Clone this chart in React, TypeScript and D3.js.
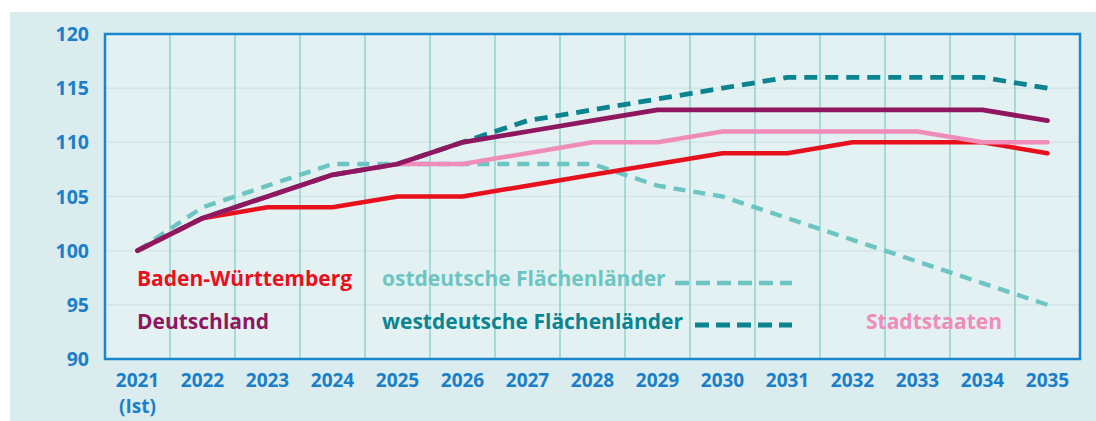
import React from "react";
import * as d3 from "d3";

const years = ["2021", "2022", "2023", "2024", "2025", "2026", "2027", "2028", "2029", "2030", "2031", "2032", "2033", "2034", "2035"];
const yTicks = [90, 95, 100, 105, 110, 115, 120];

const badenWuerttemberg = [100, 103, 104, 104, 105, 105, 106, 107, 108, 109, 109, 110, 110, 110, 109];
const deutschland = [100, 103, 105, 107, 108, 110, 111, 112, 113, 113, 113, 113, 113, 113, 112];
const stadtstaaten = [100, 103, 105, 107, 108, 108, 109, 110, 110, 111, 111, 111, 111, 110, 110];
const ostdeutsche = [100, 104, 106, 108, 108, 108, 108, 108, 106, 105, 103, 101, 99, 97, 95];
const westdeutsche = [100, 103, 105, 107, 108, 110, 112, 113, 114, 115, 116, 116, 116, 116, 115];

const W = 1096;
const H = 421;
const M = { left: 105, right: 1080, top: 34, bottom: 359 };
const FONT = "'Open Sans', sans-serif";

export default function App() {
  const x = d3.scaleBand<string>().domain(years).range([M.left, M.right]).padding(0);
  const y = d3.scaleLinear().domain([90, 120]).range([M.bottom, M.top]);
  const cx = (d: string) => (x(d) as number) + x.bandwidth() / 2;
  const line = (vals: number[]) =>
    d3.line<number>().x((_, i) => cx(years[i])).y((v) => y(v))(vals) as string;

  const series = [
    { vals: ostdeutsche, color: "#6cc5c1", dash: "12 8", w: 4.4 },
    { vals: westdeutsche, color: "#0b8490", dash: "13 8", w: 4.8 },
    { vals: badenWuerttemberg, color: "#e8101c", dash: null, w: 4.5 },
    { vals: stadtstaaten, color: "#ef8cba", dash: null, w: 4.5 },
    { vals: deutschland, color: "#8e1760", dash: null, w: 4.8 },
  ];

  const gridX = years.slice(1).map((d) => x(d) as number);

  return (
    <svg width={W} height={H} style={{ position: "absolute", left: 0, top: 0, display: "block" }}>
      <rect x={0} y={0} width={W} height={H} fill="#ffffff" />
      <rect x={10} y={12} width={W - 10} height={H - 12} fill="#daeced" />
      <rect x={M.left} y={M.top} width={M.right - M.left} height={M.bottom - M.top} fill="#e3f1f3" />
      {yTicks.slice(1, -1).map((t) => (
        <line key={"h" + t} x1={M.left} x2={M.right} y1={y(t)} y2={y(t)} stroke="#d3e6e8" strokeWidth={1.5} />
      ))}
      {gridX.map((gx, i) => (
        <line key={"v" + i} x1={gx} x2={gx} y1={M.top} y2={M.bottom} stroke="#92d2cd" strokeWidth={1.5} />
      ))}
      {series.map((s, i) => (
        <path
          key={i}
          d={line(s.vals)}
          fill="none"
          stroke={s.color}
          strokeWidth={s.w}
          strokeLinejoin="round"
          strokeLinecap={s.dash ? "butt" : "round"}
          strokeDasharray={s.dash ?? undefined}
        />
      ))}
      <rect x={M.left} y={M.top} width={M.right - M.left} height={M.bottom - M.top} fill="none" stroke="#1a86d0" strokeWidth={2.5} />

      {yTicks.map((t) => (
        <text key={"yt" + t} x={89} y={y(t)} dy="0.36em" textAnchor="end" fontFamily={FONT} fontWeight={700} fontSize={19.5} fill="#1a7fc8">
          {t}
        </text>
      ))}
      {years.map((yr) => (
        <text key={"xt" + yr} x={cx(yr)} y={387} textAnchor="middle" fontFamily={FONT} fontWeight={700} fontSize={19} fill="#1a7fc8">
          {yr}
        </text>
      ))}
      <text x={cx(years[0])} y={413} textAnchor="middle" fontFamily={FONT} fontWeight={700} fontSize={19} fill="#1a7fc8">
        (Ist)
      </text>

      <text x={137} y={286} fontFamily={FONT} fontWeight={700} fontSize={21} fill="#e8101c">Baden-Württemberg</text>
      <text x={137} y={329} fontFamily={FONT} fontWeight={700} fontSize={21} fill="#8e1760">Deutschland</text>
      <text x={382} y={286} fontFamily={FONT} fontWeight={700} fontSize={21} fill="#6cc5c1">ostdeutsche Flächenländer</text>
      <line x1={675} x2={792} y1={283} y2={283} stroke="#6cc5c1" strokeWidth={4.4} strokeDasharray="14 7" />
      <text x={382} y={329} fontFamily={FONT} fontWeight={700} fontSize={21} fill="#0b8490">westdeutsche Flächenländer</text>
      <line x1={695} x2={792} y1={325} y2={325} stroke="#0b8490" strokeWidth={4.8} strokeDasharray="14 7" />
      <text x={866} y={329} fontFamily={FONT} fontWeight={700} fontSize={21} fill="#ef8cba">Stadtstaaten</text>
    </svg>
  );
}
